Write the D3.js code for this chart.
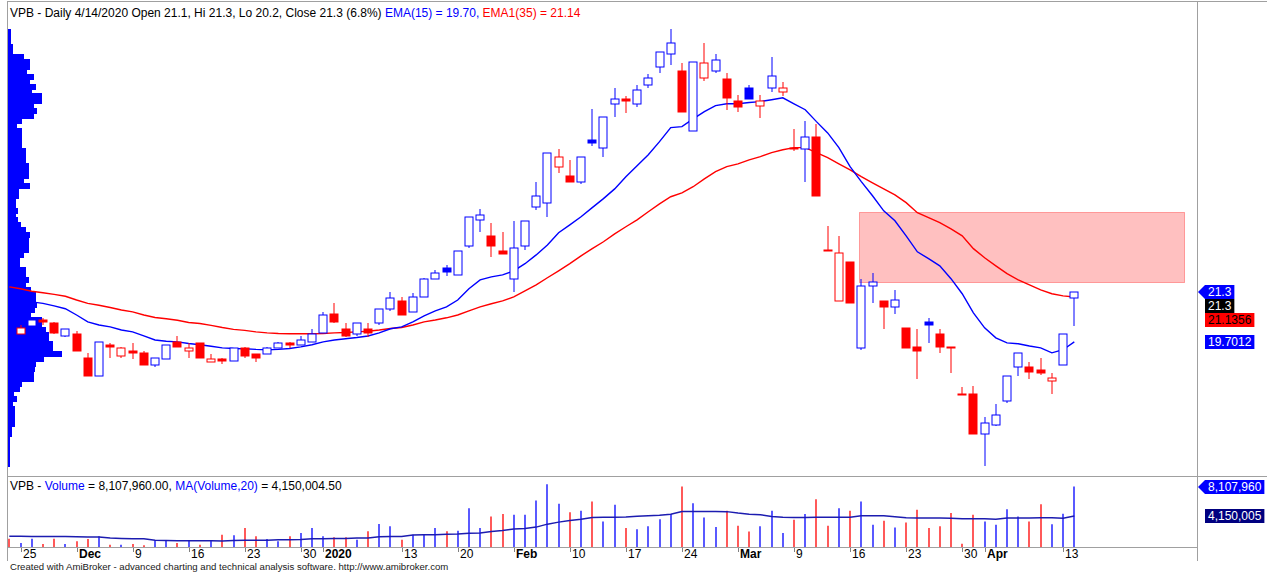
<!DOCTYPE html>
<html>
<head>
<meta charset="utf-8">
<script src="https://cdn.jsdelivr.net/npm/d3@7"></script>
<style>
  body { margin: 0; background: #fff; }
  svg { display: block; font-family: "Liberation Sans", Arial, sans-serif; }
</style>
</head>
<body>
<svg id="chart"></svg>
<script>
var WIDTH = 1267, HEIGHT = 576;

// trading days shown (HOSE, VPB)
var dates = [
  "2019-11-22","2019-11-25","2019-11-26","2019-11-27","2019-11-28","2019-11-29",
  "2019-12-02","2019-12-03","2019-12-04","2019-12-05","2019-12-06",
  "2019-12-09","2019-12-10","2019-12-11","2019-12-12","2019-12-13",
  "2019-12-16","2019-12-17","2019-12-18","2019-12-19","2019-12-20",
  "2019-12-23","2019-12-24","2019-12-25","2019-12-26","2019-12-27",
  "2019-12-30","2019-12-31","2020-01-02","2020-01-03",
  "2020-01-06","2020-01-07","2020-01-08","2020-01-09","2020-01-10",
  "2020-01-13","2020-01-14","2020-01-15","2020-01-16","2020-01-17",
  "2020-01-20","2020-01-21","2020-01-22","2020-01-30","2020-01-31",
  "2020-02-03","2020-02-04","2020-02-05","2020-02-06","2020-02-07",
  "2020-02-10","2020-02-11","2020-02-12","2020-02-13","2020-02-14",
  "2020-02-17","2020-02-18","2020-02-19","2020-02-20","2020-02-21",
  "2020-02-24","2020-02-25","2020-02-26","2020-02-27","2020-02-28",
  "2020-03-02","2020-03-03","2020-03-04","2020-03-05","2020-03-06",
  "2020-03-09","2020-03-10","2020-03-11","2020-03-12","2020-03-13",
  "2020-03-16","2020-03-17","2020-03-18","2020-03-19","2020-03-20",
  "2020-03-23","2020-03-24","2020-03-25","2020-03-26","2020-03-27",
  "2020-03-30","2020-03-31","2020-04-01","2020-04-03",
  "2020-04-06","2020-04-07","2020-04-08","2020-04-09","2020-04-10",
  "2020-04-13","2020-04-14"
];

var open = [
  20.3, 19.95, 20.2, 20.4, 20.3, 19.9, 19.95, 19.2, 18.6, 19.6,
  19.25, 19.4, 19.35, 18.95, 19.15, 19.7, 19.4, 19.65, 19.05, 19.15,
  19.1, 19.5, 19.3, 19.3, 19.5, 19.65, 19.6, 19.7, 20.0, 20.6,
  20.1, 19.95, 20.1, 20.3, 20.75, 21.0, 20.65, 21.15, 21.7, 22.05,
  21.85, 22.75, 23.6, 23.1, 22.6, 21.7, 22.75, 24.0, 24.15, 25.3,
  25.0, 24.8, 26.15, 25.9, 27.3, 27.45, 27.3, 27.9, 28.5, 28.9,
  28.35, 26.45, 28.15, 28.35, 28.1, 27.4, 27.8, 27.25, 27.8, 27.7,
  25.9, 25.85, 26.25, 22.65, 21.0, 22.25, 19.5, 21.5, 21.0, 20.8,
  20.15, 19.55, 20.35, 19.95, 19.55, 18.05, 18.05, 16.75, 17.05, 17.8,
  18.9, 18.9, 18.8, 18.45, 18.95, 21.1
];
var high = [
  20.35, 20.25, 20.45, 20.45, 20.35, 20.1, 20.05, 19.35, 19.7, 19.65,
  19.55, 19.65, 19.4, 19.2, 19.6, 19.9, 19.65, 19.65, 19.3, 19.2,
  19.5, 19.55, 19.3, 19.55, 19.7, 19.7, 19.9, 20.1, 20.65, 20.95,
  20.3, 20.3, 20.3, 20.75, 21.3, 21.15, 21.25, 21.75, 22.0, 22.15,
  22.6, 23.7, 23.95, 23.5, 23.2, 23.55, 23.55, 24.8, 25.75, 25.85,
  25.5, 25.6, 27.15, 26.9, 27.8, 27.55, 27.9, 28.25, 28.95, 29.7,
  28.6, 28.65, 29.25, 28.9, 28.3, 27.6, 27.9, 27.6, 28.8, 28.0,
  26.5, 26.75, 26.65, 23.4, 23.1, 22.25, 21.7, 21.9, 21.0, 21.35,
  20.15, 20.1, 20.45, 20.1, 19.55, 18.25, 18.3, 17.3, 17.7, 18.6,
  19.35, 19.05, 19.2, 18.7, 19.95, 21.3
];
var low = [
  20.1, 19.95, 20.2, 20.25, 19.95, 19.85, 19.4, 18.6, 18.6, 19.2,
  19.2, 19.15, 18.95, 18.9, 19.15, 19.55, 19.2, 19.2, 19.05, 19.0,
  19.1, 19.2, 19.05, 19.3, 19.5, 19.5, 19.6, 19.7, 20.0, 20.3,
  19.85, 19.9, 19.85, 20.25, 20.7, 20.55, 20.65, 21.15, 21.7, 21.8,
  21.85, 22.7, 23.2, 22.4, 22.5, 21.3, 22.65, 23.9, 23.7, 25.1,
  24.8, 24.75, 25.95, 25.6, 26.9, 27.0, 27.2, 27.8, 28.3, 28.55,
  27.05, 26.45, 28.05, 28.3, 27.1, 27.05, 27.45, 26.85, 27.7, 27.55,
  25.8, 24.8, 24.35, 22.6, 21.0, 20.95, 19.45, 20.95, 20.1, 20.6,
  19.5, 18.5, 19.65, 19.35, 18.7, 18.0, 16.75, 15.75, 17.0, 17.75,
  18.6, 18.5, 18.65, 18.05, 18.95, 20.2
];
var close = [
  20.25, 20.15, 20.4, 20.35, 20.0, 20.1, 19.4, 18.6, 19.7, 19.55,
  19.5, 19.35, 18.95, 19.2, 19.6, 19.55, 19.5, 19.2, 19.15, 19.1,
  19.5, 19.25, 19.2, 19.5, 19.65, 19.6, 19.75, 19.95, 20.55, 20.35,
  19.9, 20.3, 20.0, 20.75, 21.1, 20.55, 21.15, 21.7, 21.9, 21.95,
  22.6, 23.7, 23.75, 22.75, 22.5, 22.7, 23.55, 24.35, 25.75, 25.6,
  24.8, 25.6, 26.05, 26.9, 27.45, 27.4, 27.75, 28.15, 28.95, 29.25,
  27.05, 28.65, 28.6, 28.7, 27.5, 27.2, 27.45, 27.4, 28.2, 27.8,
  25.85, 26.25, 24.35, 22.6, 22.55, 20.95, 21.5, 21.6, 20.8, 21.05,
  19.5, 19.4, 20.25, 19.55, 19.5, 18.0, 16.75, 17.1, 17.35, 18.6,
  19.35, 18.75, 18.7, 18.55, 19.95, 21.3
];

// volume, millions of shares
var volume = [
  1.11, 0.54, 1.11, 0.40, 1.11, 0.40, 0.77, 1.07, 1.44, 0.31,
  0.31, 0.40, 0.23, 0.85, 0.85, 0.54, 0.85, 0.31, 0.85, 1.65,
  1.57, 2.55, 1.44, 1.07, 0.77, 1.44, 1.88, 2.55, 1.44, 1.30,
  1.30, 0.98, 2.11, 3.09, 2.78, 0.98, 1.65, 1.65, 2.55, 2.11,
  2.19, 5.21, 2.54, 4.09, 4.42, 4.32, 4.32, 6.24, 8.42, 5.80,
  4.68, 4.86, 6.11, 3.44, 5.66, 2.54, 2.40, 2.77, 3.74, 4.42,
  8.11, 5.88, 3.96, 2.67, 4.86, 2.85, 2.09, 2.77, 4.86, 1.87,
  3.65, 4.42, 6.42, 2.85, 5.21, 4.86, 6.11, 2.98, 3.52, 2.63,
  3.30, 4.99, 2.54, 2.77, 4.55, 0.44, 4.32, 3.44, 2.98, 5.07,
  4.09, 3.44, 5.74, 3.07, 4.46, 8.10796
];
// MA(Volume,20), millions
var volMA = [
  1.43, 1.43, 1.42, 1.42, 1.41, 1.40, 1.36, 1.34, 1.33, 1.20,
  1.15, 1.12, 1.10, 0.90, 0.86, 0.85, 0.85, 0.84, 0.84, 0.80,
  0.86, 0.89, 0.90, 0.90, 0.97, 0.98, 1.00, 1.10, 1.12, 1.13,
  1.14, 1.20, 1.22, 1.36, 1.40, 1.40, 1.60, 1.64, 1.66, 1.70,
  1.74, 1.84, 1.88, 2.09, 2.23, 2.42, 2.47, 2.67, 3.07, 3.34,
  3.57, 3.74, 3.96, 3.99, 4.01, 4.02, 4.14, 4.21, 4.25, 4.41,
  4.77, 4.78, 4.78, 4.76, 4.75, 4.55, 4.41, 4.32, 4.10, 3.99,
  3.97, 3.97, 3.98, 3.98, 3.99, 4.00, 4.19, 4.20, 4.18, 4.05,
  3.92, 3.89, 3.88, 3.88, 3.87, 3.81, 3.79, 3.78, 3.74, 3.90,
  3.91, 3.90, 3.92, 3.92, 3.86, 4.1500045
];

var ema15 = [
  21.08, 21.04, 20.98, 20.93, 20.85, 20.76, 20.56, 20.34, 20.24, 20.18,
  20.08, 20.02, 19.89, 19.76, 19.72, 19.70, 19.65, 19.61, 19.56, 19.51,
  19.49, 19.48, 19.46, 19.45, 19.46, 19.49, 19.54, 19.61, 19.70, 19.76,
  19.80, 19.84, 19.89, 19.99, 20.12, 20.18, 20.34, 20.53, 20.69, 20.82,
  21.04, 21.40, 21.68, 21.78, 21.84, 21.97, 22.20, 22.48, 22.80, 23.19,
  23.44, 23.70, 23.99, 24.28, 24.59, 24.98, 25.33, 25.68, 26.10, 26.55,
  26.58, 26.83, 27.06, 27.25, 27.31, 27.31, 27.35, 27.38, 27.44, 27.50,
  27.31, 27.12, 26.74, 26.38, 25.91, 25.30, 24.82, 24.37, 23.89, 23.57,
  23.09, 22.58, 22.36, 22.13, 21.72, 21.24, 20.63, 20.15, 19.83, 19.67,
  19.64, 19.57, 19.51, 19.35, 19.45, 19.7012
];
var ema35 = [
  21.46, 21.40, 21.32, 21.27, 21.22, 21.16, 21.04, 20.93, 20.87, 20.80,
  20.72, 20.66, 20.56, 20.48, 20.44, 20.39, 20.32, 20.29, 20.23, 20.16,
  20.10, 20.07, 20.02, 19.99, 19.97, 19.96, 19.96, 19.96, 19.97, 19.99,
  20.00, 20.02, 20.04, 20.08, 20.13, 20.16, 20.24, 20.34, 20.40, 20.47,
  20.56, 20.69, 20.82, 20.92, 21.01, 21.14, 21.33, 21.52, 21.75, 21.97,
  22.20, 22.45, 22.68, 22.90, 23.15, 23.38, 23.60, 23.86, 24.11, 24.34,
  24.46, 24.66, 24.91, 25.14, 25.30, 25.39, 25.52, 25.62, 25.75, 25.84,
  25.91, 25.91, 25.75, 25.59, 25.39, 25.20, 24.98, 24.78, 24.59, 24.40,
  24.15, 23.83, 23.67, 23.51, 23.31, 23.09, 22.68, 22.39, 22.13, 21.88,
  21.68, 21.52, 21.36, 21.24, 21.17, 21.1356
];

// volume-at-price profile, relative volume per price bin, from top (high) to bottom (low)
var vapBins = [
  3.3, 3.3, 3.3, 5, 5, 16, 21.7, 21.7, 19, 26,
  21.7, 27.7, 24, 34, 34, 26, 29, 26, 14, 9,
  13.7, 14, 14, 14, 17.7, 17.7, 17.7, 21, 21, 21,
  16, 21.7, 11, 11, 7.7, 7.7, 10.3, 8.3, 10.3, 12.7,
  17.7, 21.7, 21, 21, 21, 16, 12, 12, 18.3, 18.3,
  21, 17.7, 22.7, 27.7, 27.7, 29.3, 27, 22.7, 34, 34,
  37.7, 41, 41, 44.3, 44.3, 53.7, 36, 28.3, 27, 26,
  26, 14.3, 11.7, 6, 9.3, 5, 7, 7, 7, 7,
  4.3, 4.3, 1.7, 1.7, 1.7, 1.7, 1.7, 1.7
];

var tickLabels = [
  ["2019-11-25", "25"], ["2019-12-02", "Dec"], ["2019-12-09", "9"], ["2019-12-16", "16"],
  ["2019-12-23", "23"], ["2019-12-30", "30"], ["2020-01-02", "2020"], ["2020-01-13", "13"],
  ["2020-01-20", "20"], ["2020-02-03", "Feb"], ["2020-02-10", "10"], ["2020-02-17", "17"],
  ["2020-02-24", "24"], ["2020-03-02", "Mar"], ["2020-03-09", "9"], ["2020-03-16", "16"],
  ["2020-03-23", "23"], ["2020-03-30", "30"], ["2020-04-01", "Apr"], ["2020-04-13", "13"]
];

// shaded zone: bar index range and price band
var zone = { from: 76, to: 105, top: 23.85, bottom: 21.6 };

var BLUE = "#0000ff", RED = "#ff0000", NAVY = "#000080", GRID = "#a0a0a0";
var n = dates.length, last = n - 1;

var svg = d3.select("#chart").attr("width", WIDTH).attr("height", HEIGHT);

var x = d3.scaleLinear().domain([0, last]).range([9.3, 1074.3]);
var y = d3.scaleLinear().domain([d3.min(low), d3.max(high)]).range([465.5, 29]);
var yv = d3.scaleLinear().domain([0, d3.max(volume)]).range([547, 484.3]);
var wVap = d3.scaleLinear().domain([0, d3.max(vapBins)]).range([0, 54]);

function barColor(i) { return i === 0 || close[i] >= close[i - 1] ? BLUE : RED; }
function volColor(i) { return close[i] >= open[i] ? BLUE : RED; }

var defs = svg.append("defs");
defs.append("clipPath").attr("id", "clipMain").append("rect")
  .attr("x", 8).attr("y", 2).attr("width", 1189).attr("height", 474);
defs.append("clipPath").attr("id", "clipVol").append("rect")
  .attr("x", 8).attr("y", 477).attr("width", 1189).attr("height", 70);

// frame
var frame = svg.append("g").attr("stroke", GRID).attr("stroke-width", 1).attr("shape-rendering", "crispEdges");
frame.append("line").attr("x1", 7).attr("x2", WIDTH).attr("y1", 1.5).attr("y2", 1.5);
frame.append("line").attr("x1", 7.5).attr("x2", 7.5).attr("y1", 1).attr("y2", 561);
frame.append("line").attr("x1", 1197.5).attr("x2", 1197.5).attr("y1", 1).attr("y2", 561);
frame.append("line").attr("x1", 7).attr("x2", WIDTH).attr("y1", 476.5).attr("y2", 476.5);
frame.append("line").attr("x1", 7).attr("x2", 1197).attr("y1", 547.5).attr("y2", 547.5);

var main = svg.append("g").attr("clip-path", "url(#clipMain)");

// volume at price
var pTop = y.domain()[1], binH = (y.domain()[1] - y.domain()[0]) / vapBins.length;
main.append("g").attr("shape-rendering", "crispEdges")
  .selectAll("rect").data(vapBins).join("rect")
  .attr("x", 8)
  .attr("y", function (d, k) { return Math.round(y(pTop - k * binH)); })
  .attr("height", function (d, k) { return Math.round(y(pTop - (k + 1) * binH)) - Math.round(y(pTop - k * binH)) + 1; })
  .attr("width", function (d) { return Math.round(wVap(d)); })
  .attr("fill", BLUE);

// zone
main.append("rect")
  .attr("x", Math.round(x(zone.from)) - 1.5)
  .attr("y", Math.round(y(zone.top)) + 0.5)
  .attr("width", Math.round(x(zone.to) - x(zone.from)))
  .attr("height", Math.round(y(zone.bottom) - y(zone.top)))
  .attr("fill", "#ffc0c0")
  .attr("stroke", "#ff5050")
  .attr("stroke-dasharray", "1,1");

// moving averages
var line = d3.line().x(function (d, i) { return x(i); }).y(function (d) { return y(d); });
main.append("path").datum(ema35).attr("d", line).attr("fill", "none").attr("stroke", RED).attr("stroke-width", 1.4);
main.append("path").datum(ema15).attr("d", line).attr("fill", "none").attr("stroke", BLUE).attr("stroke-width", 1.4);

// candles
var candles = main.append("g").selectAll("g").data(d3.range(n)).join("g");
candles.append("line")
  .attr("x1", function (i) { return Math.round(x(i)); })
  .attr("x2", function (i) { return Math.round(x(i)); })
  .attr("y1", function (i) { return Math.round(y(high[i])); })
  .attr("y2", function (i) { return Math.round(y(low[i])); })
  .attr("stroke", barColor);
candles.append("rect")
  .attr("x", function (i) { return Math.round(x(i)) - 4; })
  .attr("width", 8)
  .attr("y", function (i) { return Math.round(y(Math.max(open[i], close[i]))); })
  .attr("height", function (i) { return Math.round(y(Math.min(open[i], close[i]))) - Math.round(y(Math.max(open[i], close[i]))); })
  .attr("fill", function (i) { return close[i] >= open[i] ? "#fff" : barColor(i); })
  .attr("stroke", barColor);

// volume panel
var vol = svg.append("g").attr("clip-path", "url(#clipVol)");
vol.selectAll("line").data(volume).join("line")
  .attr("x1", function (d, i) { return Math.round(x(i)); })
  .attr("x2", function (d, i) { return Math.round(x(i)); })
  .attr("y1", yv(0))
  .attr("y2", function (d) { return yv(d); })
  .attr("stroke", function (d, i) { return volColor(i); })
  .attr("stroke-width", 1.3);
var vline = d3.line().x(function (d, i) { return x(i); }).y(function (d) { return yv(d); });
vol.append("path").datum(volMA).attr("d", vline).attr("fill", "none").attr("stroke", "#1c1cb0").attr("stroke-width", 1.5);

// x axis
var idx = {};
dates.forEach(function (d, i) { idx[d] = i; });
var ticks = svg.append("g");
tickLabels.forEach(function (t) {
  var xi = Math.round(x(idx[t[0]]));
  var bold = isNaN(+t[1]) || t[1].length === 4;
  ticks.append("line").attr("x1", xi + 0.5).attr("x2", xi + 0.5).attr("y1", 548).attr("y2", 552)
    .attr("stroke", "#808080");
  ticks.append("text").attr("x", xi + 2).attr("y", 558)
    .attr("font-size", 12).attr("font-weight", bold ? "bold" : "normal").attr("fill", "#000")
    .text(t[1]);
});

// titles
function mdy(s) { var p = s.split("-"); return (+p[1]) + "/" + (+p[2]) + "/" + p[0]; }
var pct = (close[last] / close[last - 1] - 1) * 100;
var title = svg.append("text").attr("x", 10).attr("y", 17).attr("font-size", 12);
title.append("tspan").attr("fill", "#000").text("VPB - Daily " + mdy(dates[last]) + " Open " + open[last] +
  ", Hi " + high[last] + ", Lo " + low[last] + ", Close " + close[last] + " (" + pct.toFixed(1) + "%) ");
title.append("tspan").attr("fill", BLUE).text("EMA(15) = " + ema15[last].toFixed(2) + ", ");
title.append("tspan").attr("fill", RED).text("EMA1(35) = " + ema35[last].toFixed(2));

function shares(v) { return Math.round(v * 1e8) / 100; }
var vt = svg.append("text").attr("x", 10).attr("y", 490).attr("font-size", 12);
vt.append("tspan").attr("fill", "#000").text("VPB - ");
vt.append("tspan").attr("fill", BLUE).text("Volume");
vt.append("tspan").attr("fill", "#000").text(" = " + d3.format(",.2f")(shares(volume[last])) + ", ");
vt.append("tspan").attr("fill", BLUE).text("MA(Volume,20)");
vt.append("tspan").attr("fill", "#000").text(" = " + d3.format(",.2f")(shares(volMA[last])));

svg.append("text").attr("x", 10).attr("y", 570).attr("font-size", 9.6).attr("fill", "#202020")
  .text("Created with AmiBroker - advanced charting and technical analysis software. http://www.amibroker.com");

// value labels on the right
function valueLabels(items) {
  var prevBottom = -Infinity;
  items.forEach(function (d) {
    var top = Math.max(Math.round(d.y) - 7, prevBottom);
    var g = svg.append("g");
    var t = g.append("text").attr("x", 1208).attr("y", top + 11).attr("font-size", 12)
      .attr("fill", d.fg).text(d.text);
    var w = t.node().getComputedTextLength() + 6;
    var p = d.arrow
      ? "M1198," + (top + 7) + "L1205," + top + "H" + (1205 + w) + "V" + (top + 14) + "H1205Z"
      : "M1205," + top + "H" + (1205 + w) + "V" + (top + 14) + "H1205Z";
    g.insert("path", "text").attr("d", p).attr("fill", d.bg);
    prevBottom = top + 14;
  });
}
function num(v) { return String(+v.toFixed(4)); }
valueLabels([
  { y: y(close[last]), text: num(close[last]), bg: barColor(last), fg: "#fff", arrow: true },
  { y: y(close[last]), text: num(close[last]), bg: "#000", fg: "#fff" },
  { y: y(ema35[last]), text: num(ema35[last]), bg: RED, fg: "#000" },
  { y: y(ema15[last]), text: num(ema15[last]), bg: BLUE, fg: "#fff" }
]);
valueLabels([
  { y: yv(volume[last]), text: d3.format(",.0f")(shares(volume[last])), bg: BLUE, fg: "#fff", arrow: true },
  { y: yv(volMA[last]), text: d3.format(",.0f")(shares(volMA[last])), bg: NAVY, fg: "#fff" }
]);
</script>
</body>
</html>
